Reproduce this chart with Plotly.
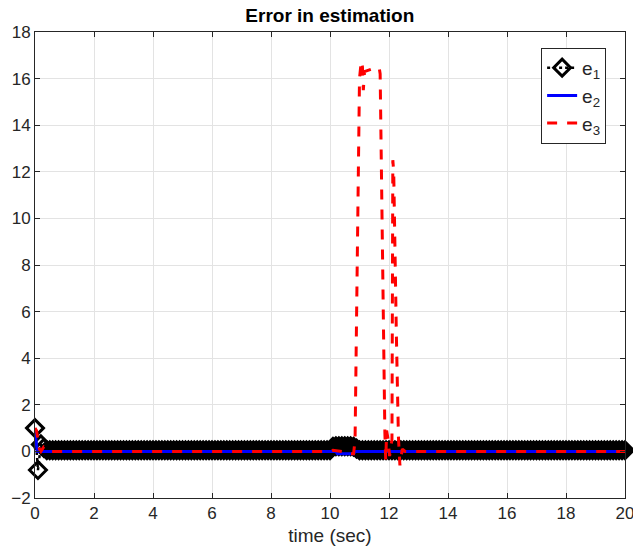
import plotly.graph_objects as go

# ---- data ----
# e1: sampled every 0.1 s (0.0 .. 20.0)
t_e1 = [round(0.1 * i, 1) for i in range(201)]
e1 = [
    1.0, -0.8, 0.3, 0.15, 0.05, 0.05, 0.05, 0.05, 0.05, 0.05, 0.05, 0.05, 0.05, 0.05, 0.05, 0.05, 0.05, 0.05, 0.05, 0.05,
    0.05, 0.05, 0.05, 0.05, 0.05, 0.05, 0.05, 0.05, 0.05, 0.05, 0.05, 0.05, 0.05, 0.05, 0.05, 0.05, 0.05, 0.05, 0.05, 0.05,
    0.05, 0.05, 0.05, 0.05, 0.05, 0.05, 0.05, 0.05, 0.05, 0.05, 0.05, 0.05, 0.05, 0.05, 0.05, 0.05, 0.05, 0.05, 0.05, 0.05,
    0.05, 0.05, 0.05, 0.05, 0.05, 0.05, 0.05, 0.05, 0.05, 0.05, 0.05, 0.05, 0.05, 0.05, 0.05, 0.05, 0.05, 0.05, 0.05, 0.05,
    0.05, 0.05, 0.05, 0.05, 0.05, 0.05, 0.05, 0.05, 0.05, 0.05, 0.05, 0.05, 0.05, 0.05, 0.05, 0.05, 0.05, 0.05, 0.05, 0.05,
    0.05, 0.2, 0.22, 0.22, 0.22, 0.22, 0.22, 0.22, 0.2, 0.12, 0.05, 0.05, 0.05, 0.05, 0.05, 0.05, 0.05, 0.05, 0.05, 0.05,
    0.05, 0.05, 0.05, 0.05, 0.05, 0.05, 0.05, 0.05, 0.05, 0.05, 0.05, 0.05, 0.05, 0.05, 0.05, 0.05, 0.05, 0.05, 0.05, 0.05,
    0.05, 0.05, 0.05, 0.05, 0.05, 0.05, 0.05, 0.05, 0.05, 0.05, 0.05, 0.05, 0.05, 0.05, 0.05, 0.05, 0.05, 0.05, 0.05, 0.05,
    0.05, 0.05, 0.05, 0.05, 0.05, 0.05, 0.05, 0.05, 0.05, 0.05, 0.05, 0.05, 0.05, 0.05, 0.05, 0.05, 0.05, 0.05, 0.05, 0.05,
    0.05, 0.05, 0.05, 0.05, 0.05, 0.05, 0.05, 0.05, 0.05, 0.05, 0.05, 0.05, 0.05, 0.05, 0.05, 0.05, 0.05, 0.05, 0.05, 0.05,
    0.05,
]

t_e2 = [0.0, 0.03, 0.08, 0.12, 0.2, 10.2, 10.25, 10.8, 10.85, 20.0]
e2 = [0.9, 0.5, -0.05, 0.05, 0.0, 0.0, -0.1, -0.1, 0.0, 0.0]

t_e3 = [0.0, 0.05, 0.1, 0.15, 0.2, 0.3, 0.4, 0.5, 10.0, 10.1, 10.4, 10.5, 10.8,
        10.85, 11.0, 11.06, 11.1, 11.13, 11.17, 11.4, 11.67, 11.7, 11.86, 11.89,
        11.92, 11.97, 12.02, 12.1, 12.13, 12.16, 12.25, 12.32, 12.37, 12.45, 12.55, 20.0]
e3 = [1.0, 0.9, 0.5, 0.1, 0.0, 0.2, 0.15, 0.0, 0.0, 0.05, 0.0, -0.1, -0.1,
      0.5, 16.0, 16.75, 16.5, 15.5, 16.3, 16.4, 16.45, 16.2, 0.8, -0.4,
      0.9, 0.5, -0.2, 0.5, 12.5, 12.0, 5.0, 0.6, -0.6, 0.1, 0.0, 0.0]

x_ticks = list(range(0, 21, 2))
y_ticks = list(range(-2, 19, 2))

AX = "#262626"
GRID = "#e3e3e3"

fig = go.Figure()
fig.add_trace(go.Scatter(
    x=t_e1, y=e1, name="e<sub>1</sub>", mode="lines+markers", cliponaxis=False,
    line=dict(color="black", width=2.5, dash="dot"),
    marker=dict(symbol="diamond-open", size=13, color="black", line=dict(width=3, color="black")),
))
fig.add_trace(go.Scatter(
    x=t_e2, y=e2, name="e<sub>2</sub>", mode="lines",
    line=dict(color="#0000ff", width=3),
))
fig.add_trace(go.Scatter(
    x=t_e3, y=e3, name="e<sub>3</sub>", mode="lines",
    line=dict(color="#ff0000", width=3, dash="10px,10px"),
))

axis_common = dict(
    showgrid=True, gridcolor=GRID, gridwidth=1,
    showline=True, linecolor=AX, linewidth=1, mirror="ticks",
    ticks="inside", ticklen=5, tickcolor=AX, zeroline=False,
    tickfont=dict(size=17, color=AX), ticklabeloverflow="allow",
    automargin=False,
)

fig.update_layout(
    width=633, height=558,
    margin=dict(l=35, r=8, t=32, b=60),
    plot_bgcolor="white", paper_bgcolor="white",
    font=dict(family="Liberation Sans, Arial, sans-serif", size=17, color=AX),
    title=dict(text="<b>Error in estimation</b>", x=0.521, xanchor="center",
               y=0.972, yanchor="middle", font=dict(size=19, color="black")),
    xaxis=dict(range=[-0.0001, 20.0001], tickvals=x_ticks,
               title=dict(text="time (sec)", font=dict(size=19, color=AX), standoff=6),
               **axis_common),
    yaxis=dict(range=[-2.0001, 18.0001], tickvals=y_ticks, **axis_common),
    legend=dict(x=0.968, xanchor="right", y=0.966, yanchor="top",
                bgcolor="white", bordercolor=AX, borderwidth=1,
                font=dict(size=19, color=AX), tracegroupgap=4),
    showlegend=True,
)

fig.write_html("out.html")
